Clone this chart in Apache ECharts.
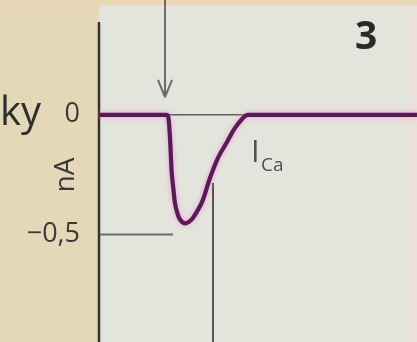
<!DOCTYPE html>
<html>
<head>
<meta charset="utf-8">
<script src="https://cdn.jsdelivr.net/npm/echarts@6/dist/echarts.min.js"></script>
<style>
  html, body { margin: 0; padding: 0; background: #e5d8b9; }
  #chart { width: 417px; height: 342px; }
</style>
</head>
<body>
<div id="chart"></div>
<script>
// Calcium current trace: time (ms) vs current (nA)
const traceTime = [0, 6.75, 6.93, 7.1, 7.27, 7.43, 7.6, 7.8, 8.1, 8.6, 9.0, 9.4, 10.3, 11.1, 11.9, 12.8, 13.6, 14.4, 14.9, 31.8];
const traceCurrent = [0, 0, -0.01, -0.097, -0.24, -0.307, -0.37, -0.406, -0.438, -0.454, -0.447, -0.431, -0.365, -0.264, -0.18, -0.114, -0.055, -0.013, 0, 0];

// Tick labels on the current axis
const tickValues = [0, -0.5];
const tickLabels = ['0', '−0,5'];

// Guide marks: stimulus time, baseline span, peak reference level, time marker
const stimulusTime = 6.6;
const baselineSpan = [6.6, 14.9];
const peakRefLevel = -0.5;
const peakRefSpan = [0.1, 7.4];
const timeMarker = 11.4;
const timeMarkerTop = -0.285;

const yMin = -0.95, yMax = 0.48;
const spineTop = 0.388;
const arrowTip = 0.074, arrowWing = 0.146, arrowHalf = 0.7;

const traceData = traceTime.map((t, i) => [t, traceCurrent[i]]);

const chart = echarts.init(document.getElementById('chart'), null, { renderer: 'canvas' });
const gray = '#5f5f5a';

chart.setOption({
  backgroundColor: '#e5d8b9',
  animation: false,
  grid: { left: 99, right: 0, top: 0, bottom: 0, outerBoundsMode: 'none', containLabel: false },
  xAxis: {
    type: 'value', min: 0, max: 31.8,
    axisLine: { show: false }, axisTick: { show: false },
    axisLabel: { show: false }, splitLine: { show: false }
  },
  yAxis: {
    type: 'value', min: yMin, max: yMax,
    name: 'nA', nameLocation: 'middle', nameRotate: 90, nameGap: 19, nameMoveOverlap: false,
    nameTextStyle: { fontFamily: 'Open Sans', fontSize: 28, color: '#3a3a38', padding: [0, 8, 0, 0] },
    axisLine: { show: false },
    axisTick: { show: false },
    splitLine: { show: false },
    axisLabel: {
      customValues: tickValues,
      margin: 19,
      fontFamily: 'Open Sans', fontSize: 27, color: '#3a3a38',
      formatter: v => {
        const i = tickValues.findIndex(x => Math.abs(x - v) < 1e-6);
        return i >= 0 ? tickLabels[i] : '';
      }
    }
  },
  graphic: [
    { type: 'rect', z: -10, shape: { x: 99, y: 5, width: 308, height: 337 }, style: { fill: '#e3e4db' } },
    { type: 'rect', z: -10, shape: { x: 407, y: 5, width: 10, height: 337 }, style: { fill: '#e8e2da' } },
    { type: 'rect', z: -10, shape: { x: 0, y: 0, width: 417, height: 5 }, style: { fill: '#ead7b4' } },
    { type: 'text', left: 0, top: 94, style: { text: 'ky', fontFamily: 'Open Sans', fontSize: 40, fill: '#2f2f2d' } },
    { type: 'text', left: 355, top: 18, style: { text: '3', fontFamily: 'Open Sans', fontWeight: 'bold', fontSize: 39, fill: '#2a2a28' } },
    { type: 'text', left: 251, top: 138, style: { text: 'I', fontFamily: 'Open Sans', fontSize: 31, fill: '#505050' } },
    { type: 'text', left: 261, top: 156, style: { text: 'Ca', fontFamily: 'Open Sans', fontSize: 19, fill: '#505050' } }
  ],
  series: [
    { // axis spine
      type: 'line', data: [[0, spineTop], [0, yMin]], symbol: 'none', silent: true,
      lineStyle: { color: '#333330', width: 2.5 }, z: 2
    },
    { // stimulus arrow shaft
      type: 'line', data: [[stimulusTime, yMax], [stimulusTime, arrowTip]], symbol: 'none', clip: false,
      lineStyle: { color: '#6a6a66', width: 2 }, z: 2
    },
    { // stimulus arrow head
      type: 'line', data: [[stimulusTime - arrowHalf, arrowWing], [stimulusTime, arrowTip], [stimulusTime + arrowHalf, arrowWing]],
      symbol: 'none', lineStyle: { color: '#6a6a66', width: 2 }, z: 2
    },
    { // baseline under the transient
      type: 'line', data: [[baselineSpan[0], 0], [baselineSpan[1], 0]], symbol: 'none',
      lineStyle: { color: gray, width: 1.5 }, z: 2
    },
    { // peak reference level
      type: 'line', data: [[peakRefSpan[0], peakRefLevel], [peakRefSpan[1], peakRefLevel]], symbol: 'none',
      lineStyle: { color: '#6b6d68', width: 2 }, z: 2
    },
    { // time marker
      type: 'line', data: [[timeMarker, timeMarkerTop], [timeMarker, yMin]], symbol: 'none',
      lineStyle: { color: '#555552', width: 2 }, z: 2
    },
    { // current trace
      type: 'line', data: traceData, symbol: 'none', smooth: 0.35,
      lineStyle: { color: '#5a1a55', width: 4.2, shadowColor: 'rgba(235,130,225,0.75)', shadowBlur: 5 },
      z: 5
    }
  ]
});
</script>
</body>
</html>
